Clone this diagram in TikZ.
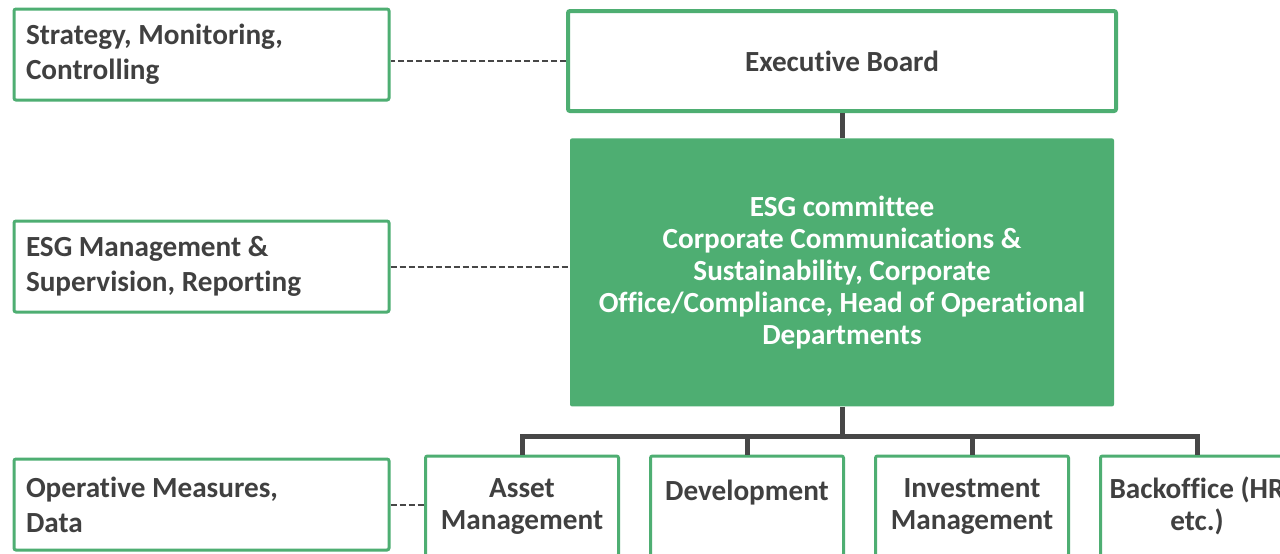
\documentclass[tikz,border=0pt]{standalone}
\usepackage{fontspec}
\setmainfont{Carlito}[Ligatures=NoCommon]
\usetikzlibrary{positioning, calc}
\definecolor{esggreen}{HTML}{4EAE72}
\definecolor{inkgray}{HTML}{404040}
\definecolor{linegray}{HTML}{474747}
\frenchspacing

\begin{document}
\begin{tikzpicture}[
    x=0.5pt, y=-0.5pt,
    % White boxes with a green frame
    box/.style={
        draw=esggreen,
        fill=white,
        text=inkgray,
        line width=1.5pt,
        rounded corners=1pt,
        font=\bfseries\fontsize{14.6}{16}\selectfont
    },
    % Left column: levels of responsibility
    levelbox/.style={
        box,
        font=\bfseries\fontsize{14.6}{17.5}\selectfont,
        align=flush left,
        inner xsep=6pt,
        text width=175.5pt,
        minimum height=45.5pt
    },
    % Top box of the main column
    boardbox/.style={
        box,
        line width=2pt,
        align=flush center,
        minimum width=274pt,
        minimum height=50pt
    },
    % Filled committee box
    committeebox/.style={
        fill=esggreen,
        text=white,
        rounded corners=1pt,
        align=flush center,
        font=\bfseries\fontsize{14.6}{16}\selectfont,
        minimum width=272pt,
        minimum height=134pt
    },
    % Bottom row of departments
    deptbox/.style={
        box,
        align=flush center,
        inner xsep=2pt,
        text width=92.5pt,
        minimum height=50pt
    },
    % Solid organisation lines
    link/.style={
        draw=linegray,
        line width=2.5pt
    },
    % Dashed lines to the level labels
    dashline/.style={
        draw=linegray,
        line width=1pt,
        dash pattern=on 3pt off 1.5pt
    }
]

\path[clip] (0,0) rectangle (1280,553);
\fill[white] (0,0) rectangle (1280,553);

% --- Main column ---
\node[boardbox] (board) at (842,61) {Executive Board};

\node[committeebox, below=12.5pt of board] (committee) {
    ESG committee \\
    Corporate Communications \& \\
    Sustainability, Corporate \\
    Office/Compliance, Head of Operational \\
    Departments
};

% --- Departments ---
\node[deptbox] (asset) at (522,506) {Asset \\ Management};
\node[deptbox, right=14.5pt of asset] (development) {Development \\ \mbox{}};
\node[deptbox, right=14.5pt of development] (investment) {Investment \\ Management};
\node[deptbox, right=14.5pt of investment] (backoffice) {Backoffice (HR \\ etc.)};

% --- Levels on the left ---
\node[levelbox] (strategy) at (201.5,54.5) {
    Strategy, Monitoring, \\
    Controlling
};
\node[levelbox] (management) at (201.5,266.5) {
    ESG Management \& \\
    Supervision, Reporting
};
\node[levelbox] (operative) at (201.5,504.5) {
    Operative Measures, \\
    Data
};

% Organisation lines
\draw[link] (board) -- (committee);
\coordinate[below=15pt of committee.south] (fork);
\draw[link] (committee.south) -- (fork);
\draw[link] (fork) -| (asset.north);
\draw[link] (fork) -| (development.north);
\draw[link] (fork) -| (investment.north);
\draw[link] (fork) -| (backoffice.north);

% Dashed lines
\draw[dashline] (board.west) -- (board.west -| strategy.east);
\draw[dashline] (management.east) -- (management.east -| committee.west);
\draw[dashline] (operative.east) -- (operative.east -| asset.west);

\end{tikzpicture}
\end{document}
